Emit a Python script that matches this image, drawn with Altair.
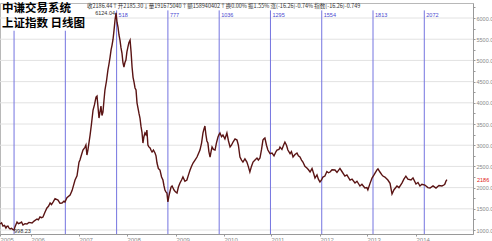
import altair as alt
import pandas as pd

# ---- data (bar index from the first bar, daily close) ----
bar_index = [0, 8, 15, 23, 30, 35, 40, 45, 51, 58, 64, 71, 76, 86, 93, 101, 109, 116, 126, 136,
             146, 162, 172, 187, 194, 202, 210, 217, 227, 237, 245, 253, 260, 268, 278, 293, 303, 313, 323, 328,
             338, 354, 364, 379, 389, 399, 404, 412, 419, 429, 434, 439, 444, 455, 462, 470, 477, 485, 490, 495,
             500, 505, 510, 515, 520, 525, 530, 538, 545, 550, 556, 561, 566, 571, 576, 581, 586, 591, 596, 601,
             606, 611, 616, 621, 626, 631, 636, 641, 646, 651, 657, 662, 667, 672, 677, 682, 687, 692, 697, 702,
             707, 712, 717, 722, 727, 732, 737, 742, 747, 752, 758, 763, 768, 775, 783, 788, 793, 800, 808, 816,
             823, 828, 833, 838, 843, 848, 853, 859, 864, 869, 874, 879, 886, 894, 901, 909, 917, 924, 934, 944,
             952, 960, 967, 975, 985, 995, 1002, 1010, 1018, 1025, 1030, 1035, 1040, 1045, 1050, 1055, 1061, 1066, 1071, 1078,
             1086, 1093, 1101, 1106, 1111, 1119, 1126, 1136, 1146, 1154, 1162, 1169, 1177, 1187, 1197, 1204, 1212, 1220, 1227, 1237,
             1247, 1254, 1262, 1270, 1278, 1288, 1298, 1305, 1313, 1321, 1328, 1333, 1338, 1346, 1353, 1364, 1374, 1384, 1394, 1399,
             1409, 1414, 1424, 1432, 1439, 1447, 1454, 1465, 1472, 1480, 1490, 1500, 1507, 1515, 1523, 1530, 1540, 1550, 1558, 1566,
             1576, 1583, 1591, 1601, 1608, 1616, 1624, 1631, 1641, 1651, 1659, 1667, 1677, 1692, 1702, 1717, 1727, 1742, 1752, 1768,
             1778, 1793, 1803, 1818, 1828, 1843, 1853, 1858, 1869, 1879, 1889, 1904, 1909, 1919, 1929, 1934, 1944, 1959, 1970, 1980,
             1990, 2005, 2015, 2030, 2040, 2050, 2060, 2076, 2086, 2101, 2111, 2121, 2131, 2146, 2161, 2172, 2187, 2202, 2217, 2232,
             2242, 2247, 2252, 2257]
close = [1141, 1170, 1094, 1110, 1047, 1085, 1094, 1050, 1024, 1040, 1015, 998, 1080, 1189, 1150, 1165, 1190, 1118, 1150, 1141,
         1180, 1165, 1210, 1259, 1240, 1307, 1290, 1307, 1420, 1519, 1560, 1637, 1600, 1660, 1740, 1707, 1630, 1637, 1680, 1660,
         1760, 1825, 1930, 2179, 2280, 2600, 2651, 2780, 2886, 2950, 3004, 2769, 2886, 3240, 3500, 3830, 3950, 4136, 4160, 3900,
         3641, 3780, 3924, 3700, 3782, 4050, 4301, 4520, 4773, 4900, 5079, 5250, 5362, 5500, 5716, 5950, 6124, 5900, 5787, 5600,
         5480, 5300, 5174, 4950, 4844, 4950, 5009, 5200, 5315, 5420, 5480, 5200, 4844, 4600, 4490, 4350, 4301, 4000, 3877, 3750,
         3641, 3450, 3311, 3051, 3200, 3287, 3250, 3358, 3004, 2960, 2934, 2880, 2839, 2886, 2816, 2750, 2580, 2450, 2415, 2250,
         2179, 2050, 1943, 1900, 1872, 1664, 1800, 1920, 2014, 2038, 1990, 1943, 1900, 1872, 2014, 2108, 2179, 2250, 2150, 2179,
         2300, 2415, 2500, 2580, 2651, 2721, 2800, 2886, 3050, 3287, 3380, 3452, 3250, 3100, 3051, 2850, 2721, 2850, 2957, 2900,
         2886, 3050, 3193, 3250, 3287, 3200, 3240, 3150, 3287, 3100, 2957, 3000, 3075, 3150, 3122, 3000, 2721, 2650, 2603, 2680,
         2603, 2500, 2368, 2500, 2603, 2650, 2698, 2650, 2698, 2900, 3122, 3150, 3169, 3000, 2886, 2800, 2816, 2750, 2850, 2886,
         2900, 2957, 2900, 3000, 3075, 3000, 2886, 2800, 2850, 2721, 2780, 2816, 2750, 2721, 2650, 2603, 2500, 2462, 2420, 2368,
         2450, 2350, 2226, 2300, 2200, 2132, 2180, 2250, 2273, 2380, 2350, 2368, 2420, 2415, 2360, 2453, 2380, 2273, 2300, 2179,
         2200, 2108, 2150, 2038, 2080, 1990, 2000, 1949, 2100, 2226, 2300, 2420, 2444, 2368, 2300, 2273, 2250, 2179, 2100, 1849,
         1950, 2038, 2000, 2108, 2200, 2270, 2200, 2179, 2230, 2085, 2120, 2038, 2080, 2061, 2000, 1990, 2040, 1990, 2050, 2038,
         2061, 2085, 2150, 2186]
assert len(bar_index) == len(close)

cycle_bars = [71, 330, 589, 848, 1107, 1366, 1625, 1884, 2143]
cycle_labels = ["", "", "518", "777", "1036", "1295", "1554", "1813", "2072"]
cycle_top = [5700, 5700, 6180, 6180, 6180, 6180, 6180, 6180, 6180]

year_bars = [0, 157, 399, 641, 889, 1131, 1369, 1616, 1853, 2101]
year_labels = ["2005", "2006", "2007", "2008", "2009", "2010", "2011", "2012", "2013", "2014"]

price_ticks = [1000, 1500, 2000, 2500, 3000, 3500, 4000, 4500, 5000, 5500, 6000]
minor_ticks = [1000, 1250, 1500, 1750, 2000, 2250, 2500, 2750, 3000, 3250, 3500, 3750,
               4000, 4250, 4500, 4750, 5000, 5250, 5500, 5750, 6000, 6250]

peak_bar, peak_value, peak_text = 586, 6124, "6124.04"
low_bar, low_value, low_text = 71, 998, "998.23"
last_value, last_text = 2186, "2186"

title_lines = ["中谦交易系统", "上证指数  日线图"]
info_text = "收2186.44↑开2185.30↓量191675040↑额158940402↑换0.00% 振1.55% 涨(-16.26)-0.74% 指数(-16.26)-0.749"

# ---- chart ----
CJK = "Noto Sans CJK SC"
NUM = "Liberation Sans"
XD = [0, 2389]
YD = [906, 6354]
xs = alt.Scale(domain=XD, nice=False, zero=False)
ys = alt.Scale(domain=YD, nice=False, zero=False)

price_df = pd.DataFrame({"bar": bar_index, "close": close})
cycle_df = pd.DataFrame({"bar": cycle_bars, "label": cycle_labels, "top": cycle_top,
                         "bottom": [YD[0]] * len(cycle_bars)})
grid_df = pd.DataFrame({"v": price_ticks})

yb_js = "[" + ",".join(str(b) for b in year_bars) + "]"
yl_js = "[" + ",".join("'" + y + "'" for y in year_labels) + "]"

x_axis = alt.Axis(values=year_bars, labelExpr=f"{yl_js}[indexof({yb_js}, datum.value)]",
                  grid=False, tickSize=2, labelPadding=0, labelAlign="left", labelFontSize=6,
                  labelColor="#888", tickColor="#999", domainColor="#999", labelFont=NUM, title=None,
                  labelFlush=False, labelOverlap=False)
y_axis = alt.Axis(orient="right", values=minor_ticks,
                  labelExpr="datum.value % 500 == 0 ? format(datum.value, '.1f') : ''",
                  grid=False, tickSize=2, labelPadding=1, labelFontSize=5.5, labelColor="#888",
                  tickColor="#999", domainColor="#999", labelFont=NUM, title=None,
                  labelFlush=False, labelOverlap=False)


def X(field):
    return alt.X(field, scale=xs, axis=x_axis)


def Y(field):
    return alt.Y(field, scale=ys, axis=y_axis)


grid = alt.Chart(grid_df).mark_rule(color="#e2e2e2", strokeWidth=1).encode(
    y=Y("v:Q"), x=alt.value(0), x2=alt.value(473))

cycles = alt.Chart(cycle_df).mark_rule(color="#7474e0", strokeWidth=1).encode(
    x=X("bar:Q"), y=Y("top:Q"), y2="bottom:Q")

cycle_text = alt.Chart(cycle_df).mark_text(align="left", baseline="top", dx=2, dy=2.5,
                                            fontSize=5.5, color="#4a4ad0", font=NUM).encode(
    x=X("bar:Q"), y=Y("top:Q"), text="label:N")

line = alt.Chart(price_df).mark_line(color="#5a1414", strokeWidth=1.4, interpolate="linear").encode(
    x=X("bar:Q"), y=Y("close:Q"))

peak = alt.Chart(pd.DataFrame({"bar": [peak_bar], "v": [peak_value], "t": [peak_text]})).mark_text(
    align="right", baseline="middle", dx=-1, dy=0.5, fontSize=5.5, color="#333", font=NUM).encode(
    x=X("bar:Q"), y=Y("v:Q"), text="t:N")

low = alt.Chart(pd.DataFrame({"bar": [low_bar], "v": [low_value], "t": [low_text]})).mark_text(
    align="left", baseline="middle", dx=0, dy=0.5, fontSize=5.5, color="#333", font=NUM).encode(
    x=X("bar:Q"), y=Y("v:Q"), text="t:N")

last = alt.Chart(pd.DataFrame({"v": [last_value], "t": [last_text]})).mark_text(
    align="left", baseline="middle", fontSize=5.5, color="#e02020", font=NUM).encode(
    x=alt.value(477), y=Y("v:Q"), text="t:N")

title1 = alt.Chart(pd.DataFrame({"t": [title_lines[0]]})).mark_text(
    align="left", baseline="middle", fontSize=11.5, fontWeight="bold", color="#000", font=CJK).encode(
    x=alt.value(2), y=alt.value(6), text="t:N")
title2 = alt.Chart(pd.DataFrame({"t": [title_lines[1]]})).mark_text(
    align="left", baseline="middle", fontSize=11.5, fontWeight="bold", color="#000", font=CJK).encode(
    x=alt.value(2), y=alt.value(21), text="t:N")
info = alt.Chart(pd.DataFrame({"t": [info_text]})).mark_text(
    align="left", baseline="middle", fontSize=5.5, color="#333", font=CJK).encode(
    x=alt.value(87), y=alt.value(2.5), text="t:N")

chart = alt.layer(grid, cycles, line, cycle_text, peak, low, last, info, title1, title2).properties(
    width=473, height=231,
    autosize=alt.AutoSizeParams(type="none"),
    padding={"left": 0, "top": 3, "right": 19, "bottom": 7},
    background="white",
).configure_view(stroke="#b8b8b8", strokeWidth=1)

chart.save("out.html", embed_options={"renderer": "svg", "actions": False})
